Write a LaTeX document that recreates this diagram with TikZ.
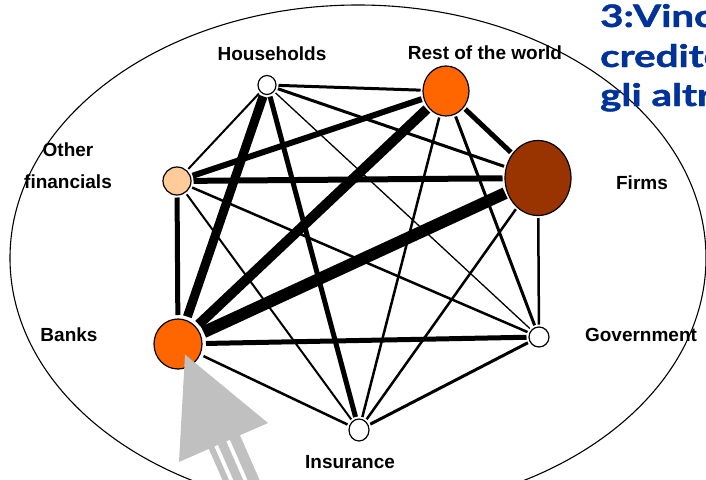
\documentclass[tikz,border=0pt]{standalone}
\usepackage{fontspec}
\setmainfont{Liberation Sans}
\newfontfamily\titlefont{Lato}[BoldFeatures={FakeBold=1.3}]
\usetikzlibrary{shapes.geometric}
\definecolor{orng}{HTML}{FF6600}
\definecolor{brwn}{HTML}{993300}
\definecolor{peach}{HTML}{FFCC99}
\definecolor{ttlblue}{HTML}{003399}
\definecolor{arrgray}{HTML}{C0C0C0}
\begin{document}
\begin{tikzpicture}[x=1pt,y=-1pt,
  sector/.style={ellipse, draw=black, line width=1.2pt, inner sep=0pt, outer sep=2.5pt},
  lbl/.style={font=\fontsize{19}{22}\selectfont\bfseries, inner sep=0pt},
  ttl/.style={font=\titlefont\fontsize{31}{36}\selectfont\bfseries, text=ttlblue, anchor=base west, inner sep=0pt},
  link/.style={line width=#1, line cap=butt}
]
\useasboundingbox (0,0) rectangle (706,479);
\clip (0,0) rectangle (706,479);
\draw[line width=1.1pt] (358,258) ellipse [x radius=348pt, y radius=253pt];

% sectors
\node[sector, fill=white, minimum width=18pt, minimum height=19pt] (H) at (267,85) {};
\node[sector, fill=orng, minimum width=46pt, minimum height=50pt] (R) at (446,91) {};
\node[sector, fill=brwn, minimum width=66pt, minimum height=75pt] (F) at (538,178) {};
\node[sector, fill=peach, minimum width=28pt, minimum height=28pt] (O) at (177,181) {};
\node[sector, fill=orng, minimum width=48pt, minimum height=50pt, outer sep=4pt] (B) at (178,344) {};
\node[sector, fill=white, minimum width=20pt, minimum height=20pt] (G) at (539,337) {};
\node[sector, fill=white, minimum width=20pt, minimum height=22pt] (I) at (359,430) {};

% links
\draw[link=3pt] (H) -- (R);
\draw[link=9pt] (H) -- (B);
\draw[link=2pt] (H) -- (O);
\draw[link=5pt] (H) -- (I);
\draw[link=3pt] (H) -- (F);
\draw[link=1.3pt] (H) -- (G);
\draw[link=6pt] (R) -- (O);
\draw[link=10pt] (R) -- (B);
\draw[link=5pt] (R) -- (F);
\draw[link=3pt] (R) -- (G);
\draw[link=2.5pt] (R) -- (I);
\draw[link=6pt] (F) -- (O);
\draw[link=12pt] (F) -- (B);
\draw[link=2.5pt] (F) -- (G);
\draw[link=2.5pt] (F) -- (I);
\draw[link=5pt] (O) -- (B);
\draw[link=2.5pt] (O) -- (G);
\draw[link=2pt] (O) -- (I);
\draw[link=5pt] (B) -- (G);
\draw[link=2.5pt] (B) -- (I);
\draw[link=3pt] (G) -- (I);

% labels
\node[lbl] (Hl) at (272,54) {Households};
\node[lbl] (Rl) at (485,53) {Rest of the world};
\node[lbl, align=center] (Ol) at (68,166) {Other\\[10pt]financials};
\node[lbl] (Fl) at (642,183) {Firms};
\node[lbl] (Bl) at (69,335) {Banks};
\node[lbl] (Gl) at (641,335) {Government};
\node[lbl] (Il) at (350,462) {Insurance};

% title (cut by the right edge, as in the reference)
\node[ttl] (T1) at (600,27) {\scalebox{1.3}[1]{3:Vinc}};
\node[ttl] (T2) at (600,67) {\scalebox{1.3}[1]{credito}};
\node[ttl] (T3) at (600,106) {\scalebox{1.3}[1]{gli altr}};

% gray arrow pointing at Banks
\begin{scope}[shift={(223.5,442.5)}, x={(0.916pt,0.401pt)}, y={(0.401pt,-0.916pt)}]
\fill[arrgray] (0,-96) -- (-48.6,0) -- (48.6,0) -- cycle;
\fill[arrgray] (-16,-1) -- (-10,-1) -- (-10,70) -- (-16,70) -- cycle;
\fill[arrgray] (-6,-1) -- (3,-1) -- (3,70) -- (-6,70) -- cycle;
\fill[arrgray] (7,-1) -- (18,-1) -- (18,70) -- (7,70) -- cycle;
\end{scope}
\end{tikzpicture}
\end{document}
